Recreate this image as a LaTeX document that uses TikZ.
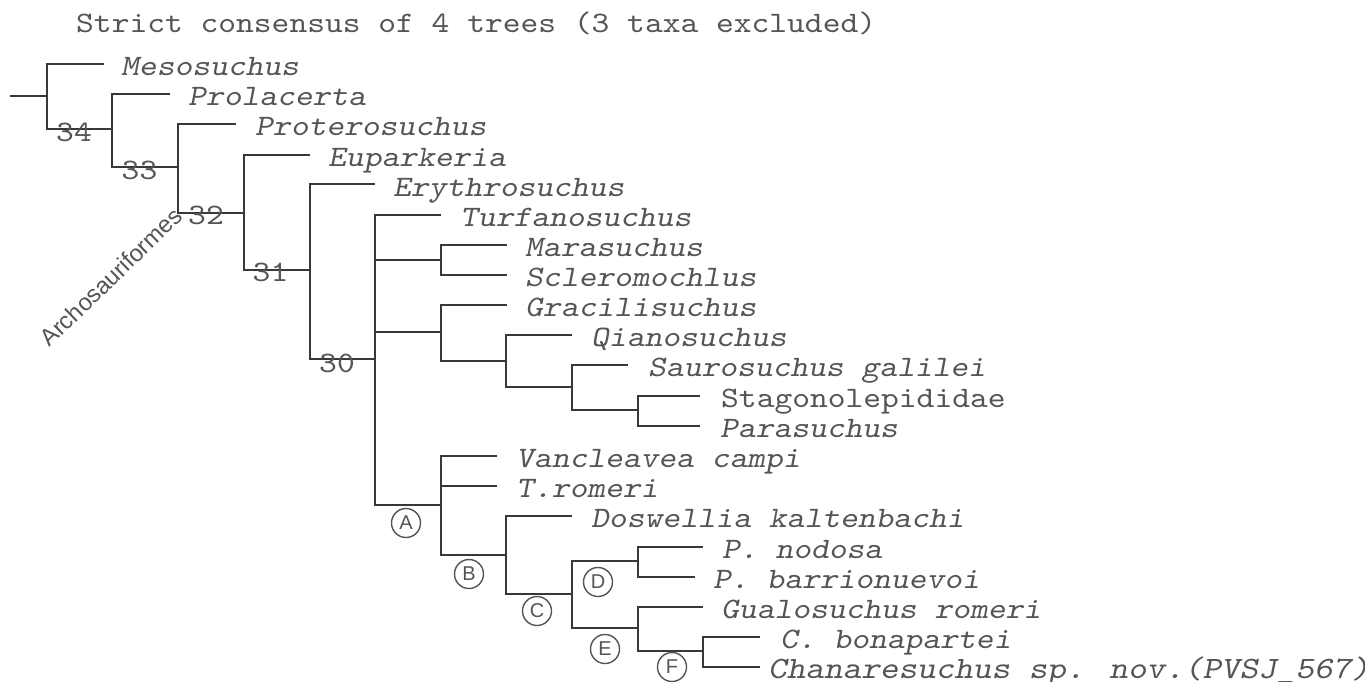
\documentclass[tikz,border=0pt]{standalone}
\usepackage{fontspec}
\setsansfont{Liberation Sans}
\newfontfamily\courfont{lmmono10-regular.otf}[FakeStretch=1.14, ItalicFont=lmmonoslant10-regular.otf]
\definecolor{linegray}{HTML}{383838}
\definecolor{txtgray}{HTML}{555555}
\tikzset{
  branch/.style={draw=linegray, line width=2.8pt, line join=miter},
  taxon/.style={anchor=base west, inner sep=0pt, text=txtgray, font=\courfont\itshape\fontsize{29.7}{30}\selectfont},
  taxonup/.style={taxon, font=\courfont\upshape\fontsize{29.7}{30}\selectfont},
  support/.style={anchor=base, inner sep=0pt, text=txtgray, font=\courfont\fontsize{29.7}{30}\selectfont},
  cladelabel/.style={circle, draw=txtgray, line width=1.4pt, minimum size=29pt, inner sep=0pt, text=txtgray, font=\sffamily\fontsize{20}{20}\selectfont},
  titletext/.style={anchor=base west, inner sep=0pt, text=txtgray, font=\courfont\fontsize{29.7}{30}\selectfont},
  grouplabel/.style={inner sep=0pt, text=txtgray, font=\sffamily\fontsize{23.8}{24}\selectfont, rotate=44}
}
\begin{document}
\begin{tikzpicture}[x=1pt, y=-1pt]
\useasboundingbox[fill=white] (0,0) rectangle (1365,682);

% title
\node[titletext] (title) at (76,33) {Strict consensus of 4 trees (3 taxa excluded)};

% internal nodes
\coordinate (root) at (10,96);
\coordinate (n34) at (47,96);
\coordinate (n33) at (112,129);
\coordinate (n32) at (178,167);
\coordinate (n31) at (244,213);
\coordinate (n30) at (310,270);
\coordinate (nA) at (375,359);
\coordinate (nMS) at (441,260);
\coordinate (nG) at (441,332);
\coordinate (nQ) at (506,361);
\coordinate (nS) at (572,387);
\coordinate (nSt) at (638,410);
\coordinate (nB) at (441,505);
\coordinate (nC) at (506,555);
\coordinate (nD) at (572,594);
\coordinate (nP) at (638,561);
\coordinate (nGu) at (638,628);
\coordinate (nCb) at (703,651);

% tip ends
\coordinate (meso) at (104,64);
\coordinate (prol) at (170,94);
\coordinate (prot) at (236,124);
\coordinate (eupa) at (310,155);
\coordinate (eryt) at (375,184);
\coordinate (turf) at (441,215);
\coordinate (mara) at (507,245);
\coordinate (scle) at (507,275);
\coordinate (grac) at (507,305);
\coordinate (qian) at (572,335);
\coordinate (saur) at (628,365);
\coordinate (stag) at (700,396);
\coordinate (para) at (700,426);
\coordinate (vanc) at (497,456);
\coordinate (trom) at (497,486);
\coordinate (dosw) at (572,516);
\coordinate (pnod) at (703,547);
\coordinate (pbar) at (695,577);
\coordinate (gual) at (703,607);
\coordinate (cbon) at (760,637);
\coordinate (chan) at (760,667);

% branches
\draw[branch] (root) -- (n34);
\draw[branch] (n34) |- (meso);
\draw[branch] (n34) |- (n33);
\draw[branch] (n33) |- (prol);
\draw[branch] (n33) |- (n32);
\draw[branch] (n32) |- (prot);
\draw[branch] (n32) |- (n31);
\draw[branch] (n31) |- (eupa);
\draw[branch] (n31) |- (n30);
\draw[branch] (n30) |- (eryt);
\draw[branch] (n30) |- (nA);
\draw[branch] (nA) |- (turf);
\draw[branch] (nA) |- (nMS);
\draw[branch] (nA) |- (nG);
\draw[branch] (nA) |- (nB);
\draw[branch] (nMS) |- (mara);
\draw[branch] (nMS) |- (scle);
\draw[branch] (nG) |- (grac);
\draw[branch] (nG) |- (nQ);
\draw[branch] (nQ) |- (qian);
\draw[branch] (nQ) |- (nS);
\draw[branch] (nS) |- (saur);
\draw[branch] (nS) |- (nSt);
\draw[branch] (nSt) |- (stag);
\draw[branch] (nSt) |- (para);
\draw[branch] (nB) |- (vanc);
\draw[branch] (nB) |- (trom);
\draw[branch] (nB) |- (nC);
\draw[branch] (nC) |- (dosw);
\draw[branch] (nC) |- (nD);
\draw[branch] (nD) |- (nP);
\draw[branch] (nD) |- (nGu);
\draw[branch] (nP) |- (pnod);
\draw[branch] (nP) |- (pbar);
\draw[branch] (nGu) |- (gual);
\draw[branch] (nGu) |- (nCb);
\draw[branch] (nCb) |- (cbon);
\draw[branch] (nCb) |- (chan);

% taxon names
\node[taxon] (tmeso) at (121,75.5) {Mesosuchus};
\node[taxon] (tprol) at (188,105.5) {Prolacerta};
\node[taxon] (tprot) at (255,135.5) {Proterosuchus};
\node[taxon] (teupa) at (328,166) {Euparkeria};
\node[taxon] (teryt) at (393,196) {Erythrosuchus};
\node[taxon] (tturf) at (460,226.5) {Turfanosuchus};
\node[taxon] (tmara) at (525,256.5) {Marasuchus};
\node[taxon] (tscle) at (525,286.5) {Scleromochlus};
\node[taxon] (tgrac) at (525,316.5) {Gracilisuchus};
\node[taxon] (tqian) at (591,346.5) {Qianosuchus};
\node[taxon] (tsaur) at (648,376.5) {Saurosuchus galilei};
\node[taxonup] (tstag) at (721,407) {Stagonolepididae};
\node[taxon] (tpara) at (720,437) {Parasuchus};
\node[taxon] (tvanc) at (516,467.5) {Vancleavea campi};
\node[taxon] (ttrom) at (516,497.5) {T.romeri};
\node[taxon] (tdosw) at (591,527.5) {Doswellia kaltenbachi};
\node[taxon] (tpnod) at (722,558) {P. nodosa};
\node[taxon] (tpbar) at (713,588) {P. barrionuevoi};
\node[taxon] (tgual) at (721,618) {Gualosuchus romeri};
\node[taxon] (tcbon) at (780,648.5) {C. bonapartei};
\node[taxon, font=\courfont\itshape\fontsize{31.1}{31}\selectfont] (tchan) at (768,678.5) {Chanaresuchus sp. nov.(PVSJ\_567)};

% support values
\node[support] (s34) at (74,142) {34};
\node[support] (s33) at (139.5,179) {33};
\node[support] (s32) at (206,224) {32};
\node[support] (s31) at (270.5,281) {31};
\node[support] (s30) at (337,372) {30};

% group label
\node[grouplabel] (archo) at (111,277) {Archosauriformes};

% clade labels
\node[cladelabel] (cA) at (406,523) {A};
\node[cladelabel] (cB) at (469,574) {B};
\node[cladelabel] (cC) at (537,611) {C};
\node[cladelabel] (cD) at (598,582) {D};
\node[cladelabel] (cE) at (605,649) {E};
\node[cladelabel] (cF) at (672,667) {F};
\end{tikzpicture}
\end{document}
